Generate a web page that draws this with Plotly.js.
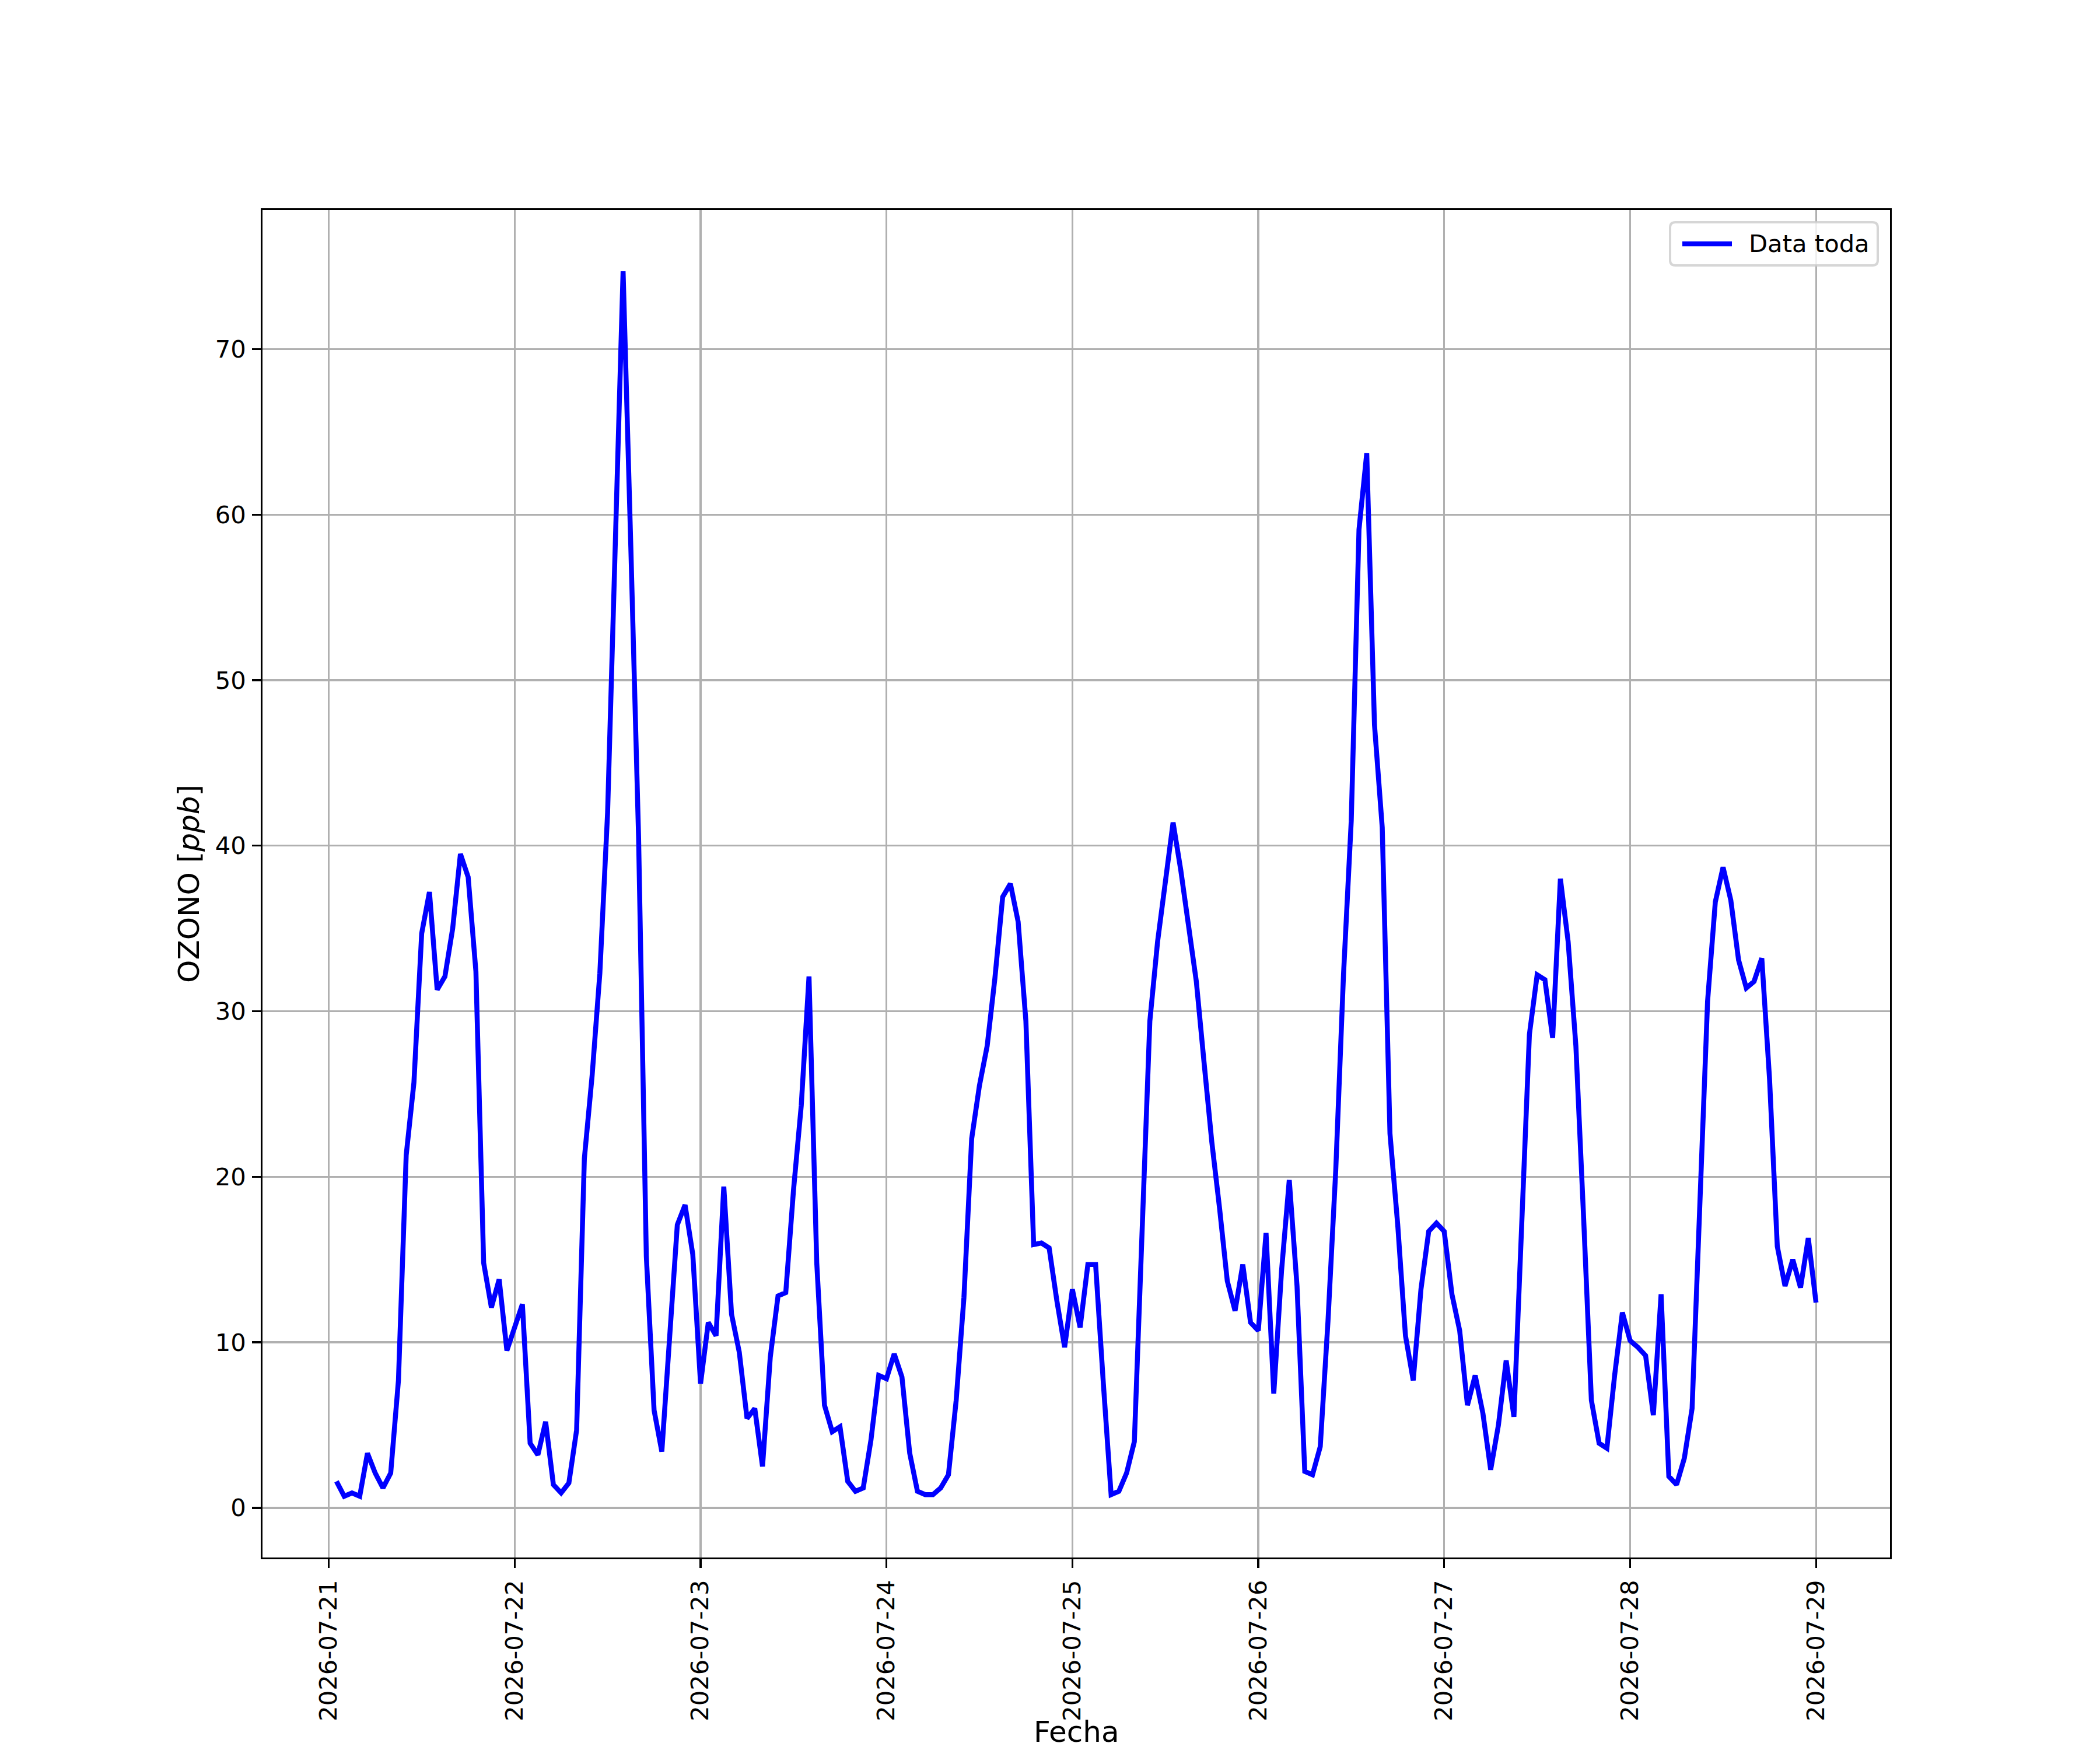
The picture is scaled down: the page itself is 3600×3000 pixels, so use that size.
<!DOCTYPE html>
<html>
<head>
<meta charset="utf-8">
<script src="https://cdn.plot.ly/plotly-3.0.1.min.js"></script>
<style>html,body{margin:0;padding:0;background:#fff;}</style>
</head>
<body>
<div id="chart" style="width:3600px;height:3000px;"></div>
<script>
// Hourly ozone values (ppb); first series starts 2026-07-21 01:00
const startTime = '2026-07-21 01:00';
const day21 = [1.6, 0.7, 0.9, 0.7, 3.3, 2.1, 1.2, 2.1, 7.7, 21.3, 25.7, 34.7, 37.2, 31.3, 32.1, 35.0, 39.5, 38.1, 32.4, 14.8, 12.1, 13.8, 9.5];
const day22 = [11.0, 12.3, 3.9, 3.2, 5.2, 1.4, 0.9, 1.5, 4.7, 21.1, 26.1, 32.3, 42.0, 58.5, 74.7, 58.0, 40.5, 15.2, 5.9, 3.4, 10.1, 17.1, 18.3, 15.3];
const day23 = [7.5, 11.2, 10.4, 19.4, 11.7, 9.4, 5.4, 6.0, 2.5, 9.1, 12.8, 13.0, 19.2, 24.3, 32.1, 14.8, 6.2, 4.6, 4.9, 1.6, 1.0, 1.2, 4.1, 8.0];
const day24 = [7.8, 9.3, 7.9, 3.3, 1.0, 0.8, 0.8, 1.2, 2.0, 6.5, 12.7, 22.3, 25.5, 27.9, 32.0, 36.9, 37.7, 35.4, 29.4, 15.9, 16.0, 15.7, 12.5, 9.7];
const day25 = [13.2, 10.9, 14.7, 14.7, 7.5, 0.8, 1.0, 2.1, 4.0, 16.5, 29.4, 34.2, 37.8, 41.4, 38.5, 34.9, 31.8, 26.9, 22.1, 18.1, 13.7, 11.9, 14.7, 11.2];
const day26 = [10.7, 16.6, 6.9, 14.3, 19.8, 13.4, 2.2, 2.0, 3.7, 11.3, 20.4, 32.2, 41.5, 59.1, 63.7, 47.3, 41.1, 22.6, 17.1, 10.4, 7.7, 13.2, 16.7, 17.2];
const day27 = [16.7, 12.9, 10.7, 6.2, 8.0, 5.7, 2.3, 5.0, 8.9, 5.5, 16.8, 28.6, 32.2, 31.9, 28.4, 38.0, 34.2, 27.9, 17.5, 6.5, 3.9, 3.6, 8.0, 11.8];
const day28 = [10.1, 9.7, 9.2, 5.6, 12.9, 1.9, 1.4, 3.0, 6.0, 18.3, 30.6, 36.6, 38.7, 36.7, 33.1, 31.4, 31.8, 33.2, 25.9, 15.8, 13.4, 15.0, 13.3, 16.3];
const day29 = [12.4];
const seriesName = 'Data toda';
const xTitle = 'Fecha';
const yTitle = 'OZONO [<i>ppb</i>]';
const yTicks = [0, 10, 20, 30, 40, 50, 60, 70];

const values = [].concat(day21, day22, day23, day24, day25, day26, day27, day28, day29);
const HOUR = 3600000;
const t0 = Date.parse(startTime.replace(' ', 'T') + ':00Z');
function fmt(ms) { return new Date(ms).toISOString().replace('T', ' ').replace('Z', ''); }
const times = values.map((v, i) => fmt(t0 + i * HOUR));

const tFirst = t0, tLast = t0 + (values.length - 1) * HOUR;
const tPad = 0.05 * (tLast - tFirst);
const vMin = Math.min(...values), vMax = Math.max(...values);
const vPad = 0.05 * (vMax - vMin);

const TICKF = 41.7, LABF = 50;
const font = {family: 'DejaVu Sans', color: '#000'};
const LW = 8.5;

const trace = {
  x: times, y: values, type: 'scatter', mode: 'lines', name: seriesName,
  line: {color: '#0000ff', width: LW}, showlegend: false
};

// custom matplotlib-like legend (paper coordinates)
const L = 450, R = 3240, T = 360, B = 2670, W = R - L, H = B - T;
const px = x => (x - L) / W, py = y => (B - y) / H;
const bx0 = px(2863), bx1 = px(3219), by0 = py(455), by1 = py(381);
const rx = 9 / W, ry = 9 / H;
const boxPath = `M${bx0 + rx},${by1} L${bx1 - rx},${by1} Q${bx1},${by1} ${bx1},${by1 - ry} L${bx1},${by0 + ry} Q${bx1},${by0} ${bx1 - rx},${by0} L${bx0 + rx},${by0} Q${bx0},${by0} ${bx0},${by0 + ry} L${bx0},${by1 - ry} Q${bx0},${by1} ${bx0 + rx},${by1} Z`;
const legY = py(418);

const layout = {
  width: 3600, height: 3000,
  margin: {l: L, r: 3600 - R, t: T, b: 3000 - B, pad: 0},
  paper_bgcolor: '#fff', plot_bgcolor: '#fff',
  font: Object.assign({size: TICKF}, font),
  xaxis: {
    type: 'date',
    range: [fmt(tFirst - tPad), fmt(tLast + tPad)],
    tick0: '2026-07-21', dtick: 86400000, tickformat: '%Y-%m-%d',
    tickangle: -90,
    showgrid: true, gridcolor: '#b0b0b0', gridwidth: 3.3,
    zeroline: false, showline: true, mirror: true, linecolor: '#000', linewidth: 3.3,
    ticks: 'outside', ticklen: 14.6, tickwidth: 3.3, tickcolor: '#000',
    ticklabelstandoff: 4,
    tickfont: Object.assign({size: TICKF}, font),
    automargin: false
  },
  yaxis: {
    range: [vMin - vPad, vMax + vPad],
    tickmode: 'array', tickvals: yTicks, ticktext: yTicks.map(String),
    showgrid: true, gridcolor: '#b0b0b0', gridwidth: 3.3,
    zeroline: false, showline: true, mirror: true, linecolor: '#000', linewidth: 3.3,
    ticks: 'outside', ticklen: 14.6, tickwidth: 3.3, tickcolor: '#000',
    ticklabelstandoff: 2,
    tickfont: Object.assign({size: TICKF}, font),
    title: {text: yTitle, font: Object.assign({size: LABF}, font), standoff: 12},
    automargin: false
  },
  shapes: [
    {type: 'path', xref: 'paper', yref: 'paper', path: boxPath, layer: 'above',
     fillcolor: 'rgba(255,255,255,0.8)', line: {color: 'rgba(204,204,204,0.8)', width: 4}},
    {type: 'line', xref: 'paper', yref: 'paper', x0: px(2884), x1: px(2969), y0: legY, y1: legY,
     layer: 'above', line: {color: '#0000ff', width: LW}}
  ],
  annotations: [
    {xref: 'paper', yref: 'paper', x: px(2996), y: legY, xanchor: 'left', yanchor: 'middle',
     text: seriesName, showarrow: false, font: Object.assign({size: TICKF}, font)},
    {xref: 'paper', yref: 'paper', x: 0.5, y: py(2999), xanchor: 'center', yanchor: 'bottom',
     text: xTitle, showarrow: false, borderpad: 0, font: Object.assign({size: LABF}, font)}
  ]
};

Plotly.newPlot('chart', [trace], layout, {staticPlot: true, displayModeBar: false});
</script>
</body>
</html>
